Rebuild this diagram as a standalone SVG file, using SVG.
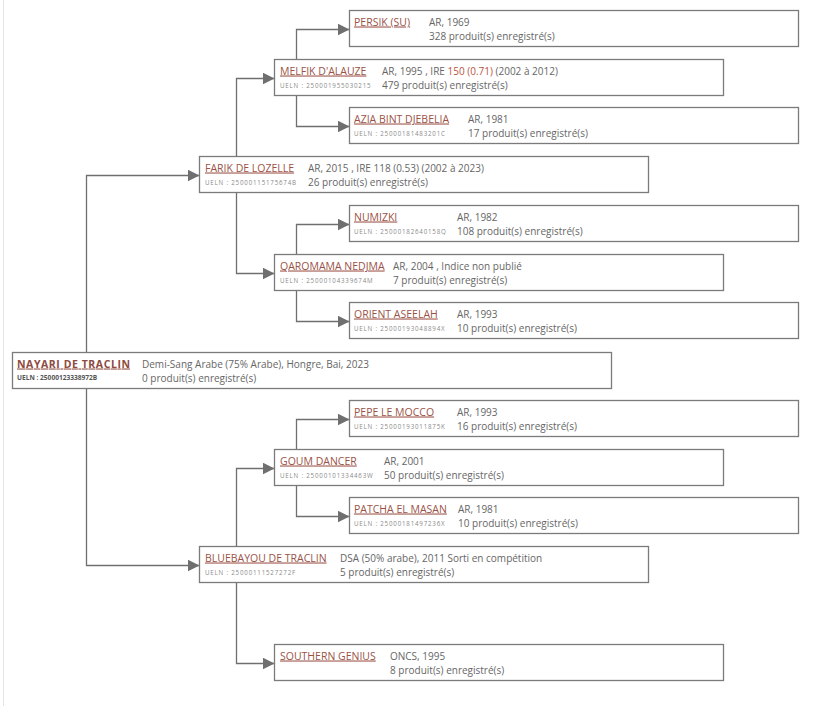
<svg xmlns="http://www.w3.org/2000/svg" width="814" height="706" viewBox="0 0 814 706">
<style>
.bg{fill:#fff}
.edge{stroke:#e6e6e6;stroke-width:1}
.box{fill:#fff;stroke:#7b7b7b;stroke-width:1.3}
.conn{fill:none;stroke:#6f6f6f;stroke-width:1.3;marker-end:url(#arr)}
text{font-family:"Open Sans","Liberation Sans",sans-serif}
.name{font-size:10.5px;fill:#9b5246;text-decoration:underline}
.rname{font-size:10.5px;font-weight:bold;fill:#8e4a3e;text-decoration:underline}
.info{font-size:10px;fill:#666}
.ueln{font-size:6.2px;letter-spacing:0.8px;fill:#8a8a8a}
.rueln{font-size:6.6px;font-weight:bold;fill:#555}
.hl{fill:#b9543f}
</style>
<defs>
<marker id="arr" markerUnits="userSpaceOnUse" markerWidth="12" markerHeight="12" refX="12" refY="6" orient="auto">
<path d="M0,0 L12,6 L0,12 z" fill="#6f6f6f"/>
</marker>
</defs>
<rect class="bg" x="0" y="0" width="814" height="706"/>
<line class="edge" x1="3.5" y1="0" x2="3.5" y2="706"/>
<g id="connectors">
<path class="conn" d="M86.5,370 V175.5 H199.5"/>
<path class="conn" d="M86.5,370 V565.5 H199.5"/>
<path class="conn" d="M236.5,175 V78.5 H274.5"/>
<path class="conn" d="M236.5,175 V273.5 H274.5"/>
<path class="conn" d="M236.5,565 V468.5 H274.5"/>
<path class="conn" d="M236.5,565 V663.5 H274.5"/>
<path class="conn" d="M296.5,78 V29.5 H349.5"/>
<path class="conn" d="M296.5,78 V126.5 H349.5"/>
<path class="conn" d="M296.5,273 V224.5 H349.5"/>
<path class="conn" d="M296.5,273 V321.5 H349.5"/>
<path class="conn" d="M296.5,468 V419.5 H349.5"/>
<path class="conn" d="M296.5,468 V516.5 H349.5"/>
</g>
<g id="persik">
<rect class="box" x="349.5" y="10.5" width="449" height="36"/>
<text class="name" x="354" y="25.5">PERSIK (SU)</text>
<text class="info" x="429" y="25.5">AR, 1969</text>
<text class="info" x="429" y="40">328 produit(s) enregistré(s)</text>
</g>
<g id="melfik">
<rect class="box" x="274.5" y="59.5" width="449" height="36"/>
<text class="name" x="280" y="74.5">MELFIK D'ALAUZE</text>
<text class="ueln" x="280" y="87.5">UELN : 250001955030215</text>
<text class="info" x="382" y="74.5">AR, 1995 , IRE <tspan class="hl">150 (0.71)</tspan> (2002 à 2012)</text>
<text class="info" x="382" y="89">479 produit(s) enregistré(s)</text>
</g>
<g id="azia">
<rect class="box" x="349.5" y="107.5" width="449" height="36"/>
<text class="name" x="354" y="122.5">AZIA BINT DJEBELIA</text>
<text class="ueln" x="354" y="135.5">UELN : 25000181483201C</text>
<text class="info" x="468" y="122.5">AR, 1981</text>
<text class="info" x="468" y="137">17 produit(s) enregistré(s)</text>
</g>
<g id="farik">
<rect class="box" x="199.5" y="156.5" width="449" height="36"/>
<text class="name" x="205" y="171.5">FARIK DE LOZELLE</text>
<text class="ueln" x="205" y="184.5">UELN : 25000115175674B</text>
<text class="info" x="308" y="171.5">AR, 2015 , IRE 118 (0.53) (2002 à 2023)</text>
<text class="info" x="308" y="186">26 produit(s) enregistré(s)</text>
</g>
<g id="numizki">
<rect class="box" x="349.5" y="205.5" width="449" height="36"/>
<text class="name" x="354" y="220.5">NUMIZKI</text>
<text class="ueln" x="354" y="233.5">UELN : 25000182640158Q</text>
<text class="info" x="457" y="220.5">AR, 1982</text>
<text class="info" x="457" y="235">108 produit(s) enregistré(s)</text>
</g>
<g id="qaromama">
<rect class="box" x="274.5" y="254.5" width="449" height="36"/>
<text class="name" x="280" y="269.5">QAROMAMA NEDJMA</text>
<text class="ueln" x="280" y="282.5">UELN : 25000104339674M</text>
<text class="info" x="393" y="269.5">AR, 2004 , Indice non publié</text>
<text class="info" x="393" y="284">7 produit(s) enregistré(s)</text>
</g>
<g id="orient">
<rect class="box" x="349.5" y="302.5" width="449" height="36"/>
<text class="name" x="354" y="317.5">ORIENT ASEELAH</text>
<text class="ueln" x="354" y="330.5">UELN : 25000193048894X</text>
<text class="info" x="457" y="317.5">AR, 1993</text>
<text class="info" x="457" y="332">10 produit(s) enregistré(s)</text>
</g>
<g id="nayari">
<rect class="box" x="12.5" y="352.5" width="599" height="36"/>
<text class="rname" x="17" y="367.5" textLength="113" lengthAdjust="spacing">NAYARI DE TRACLIN</text>
<text class="rueln" x="17" y="380">UELN : 25000123338972B</text>
<text class="info" x="142" y="367.5">Demi-Sang Arabe (75% Arabe), Hongre, Bai, 2023</text>
<text class="info" x="142" y="382">0 produit(s) enregistré(s)</text>
</g>
<g id="pepe">
<rect class="box" x="349.5" y="400.5" width="449" height="36"/>
<text class="name" x="354" y="415.5">PEPE LE MOCCO</text>
<text class="ueln" x="354" y="428.5">UELN : 25000193011875K</text>
<text class="info" x="457" y="415.5">AR, 1993</text>
<text class="info" x="457" y="430">16 produit(s) enregistré(s)</text>
</g>
<g id="goum">
<rect class="box" x="274.5" y="449.5" width="449" height="36"/>
<text class="name" x="280" y="464.5">GOUM DANCER</text>
<text class="ueln" x="280" y="477.5">UELN : 25000101334463W</text>
<text class="info" x="384" y="464.5">AR, 2001</text>
<text class="info" x="384" y="479">50 produit(s) enregistré(s)</text>
</g>
<g id="patcha">
<rect class="box" x="349.5" y="497.5" width="449" height="36"/>
<text class="name" x="354" y="512.5">PATCHA EL MASAN</text>
<text class="ueln" x="354" y="525.5">UELN : 25000181497236X</text>
<text class="info" x="458" y="512.5">AR, 1981</text>
<text class="info" x="458" y="527">10 produit(s) enregistré(s)</text>
</g>
<g id="bluebayou">
<rect class="box" x="199.5" y="546.5" width="449" height="36"/>
<text class="name" x="205" y="561.5">BLUEBAYOU DE TRACLIN</text>
<text class="ueln" x="205" y="574.5">UELN : 25000111527272F</text>
<text class="info" x="340" y="561.5">DSA (50% arabe), 2011 Sorti en compétition</text>
<text class="info" x="340" y="576">5 produit(s) enregistré(s)</text>
</g>
<g id="southern">
<rect class="box" x="274.5" y="644.5" width="449" height="36"/>
<text class="name" x="280" y="659.5">SOUTHERN GENIUS</text>
<text class="info" x="390" y="659.5">ONCS, 1995</text>
<text class="info" x="390" y="674">8 produit(s) enregistré(s)</text>
</g>
</svg>
